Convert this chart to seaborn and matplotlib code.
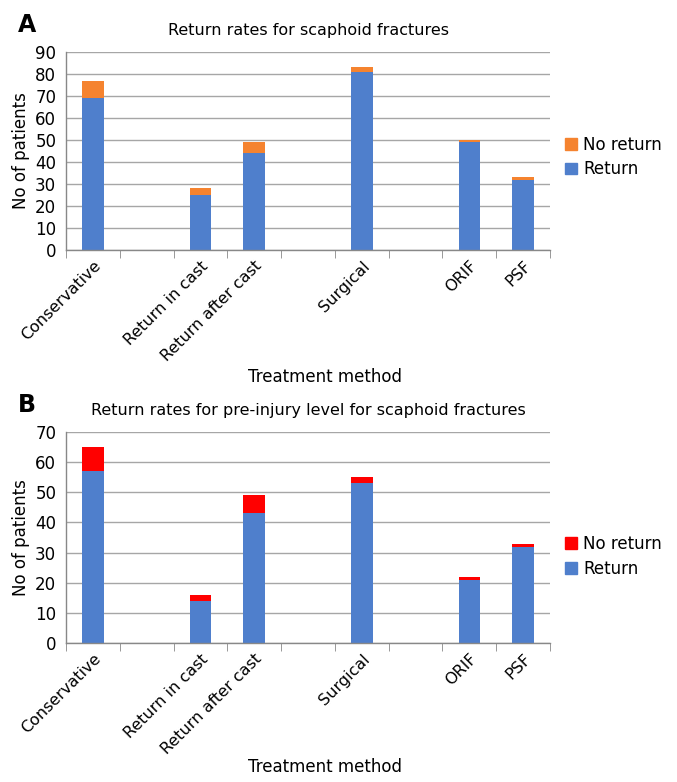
import numpy as np
import pandas as pd
import matplotlib
matplotlib.use("Agg")
import matplotlib.pyplot as plt
import seaborn as sns
from matplotlib.patches import Patch

# data
methods = ["Conservative", "Return in cast", "Return after cast", "Surgical", "ORIF", "PSF"]
a_return = [69, 25, 44, 81, 49, 32]
a_total = [77, 28, 49, 83, 50, 33]
b_return = [57, 14, 43, 53, 21, 32]
b_total = [65, 16, 49, 55, 22, 33]

# slot order with empty gaps between groups
slot_order = ["Conservative", "gap1", "Return in cast", "Return after cast", "gap2",
              "Surgical", "gap3", "ORIF", "PSF"]

BLUE = "#4f7fcc"
ORANGE = "#f5832f"
RED = "#ff0000"
GRID = "#a6a6a6"

sns.set_style("white")
plt.rcParams["font.family"] = ["DejaVu Sans"]
plt.rcParams["text.color"] = "black"
plt.rcParams["axes.labelcolor"] = "black"
plt.rcParams["xtick.color"] = "black"
plt.rcParams["ytick.color"] = "black"

fig = plt.figure(figsize=(6.77, 7.82), dpi=100)
W, H = 677, 782


def axes_px(left, right, top, bottom):
    return fig.add_axes([left / W, 1 - bottom / H, (right - left) / W, (bottom - top) / H])


def draw_panel(ax, ret, tot, top_color, title, ymax, letter, legend_y, xlabel_y):
    df = pd.DataFrame({"method": methods, "ret": ret, "tot": tot})
    sns.barplot(data=df, x="method", y="tot", order=slot_order, color=top_color,
                width=0.4, saturation=1, ax=ax, linewidth=0)
    sns.barplot(data=df, x="method", y="ret", order=slot_order, color=BLUE,
                width=0.4, saturation=1, ax=ax, linewidth=0)
    ax.set_xlim(-0.5, len(slot_order) - 0.5)
    ax.set_ylim(0, ymax)
    ax.set_yticks(np.arange(0, ymax + 1, 10))
    ax.yaxis.grid(True, color=GRID, linewidth=1)
    ax.set_axisbelow(True)
    for s in ["top", "right"]:
        ax.spines[s].set_visible(False)
    for s in ["left", "bottom"]:
        ax.spines[s].set_color("#888888")
        ax.spines[s].set_linewidth(1)
    labels = ["" if n.startswith("gap") else n for n in slot_order]
    ax.set_xticks(range(len(slot_order)))
    ax.set_xticklabels(labels, rotation=45, ha="right", rotation_mode="anchor", fontsize=11.5)
    ax.set_xticks(np.arange(-0.5, len(slot_order), 1), minor=True)
    ax.tick_params(axis="x", which="major", length=0, pad=6)
    ax.tick_params(axis="x", which="minor", length=6, color="#888888", bottom=True)
    ax.tick_params(axis="y", length=5, color="#888888", labelsize=12, pad=2)
    ax.set_xlabel("")
    ax.set_ylabel("No of patients", fontsize=12, labelpad=4)
    ax.set_title(title, fontsize=11.5, pad=12)
    handles = [Patch(color=top_color, label="No return"), Patch(color=BLUE, label="Return")]
    ax.legend(handles=handles, loc="center left", bbox_to_anchor=(1.0, legend_y),
              frameon=False, fontsize=12, handlelength=0.7, handleheight=0.7,
              handletextpad=0.4, labelspacing=0.4)
    fig.text(325 / W, 1 - xlabel_y / H, "Treatment method", ha="center", va="center", fontsize=12)
    pos = ax.get_position()
    fig.text(18 / W, pos.y1 + 27 / H, letter, fontsize=17, fontweight="bold", va="center")


ax_a = axes_px(66, 550, 52, 250)
draw_panel(ax_a, a_return, a_total, ORANGE, "Return rates for scaphoid fractures", 90, "A", 0.47, 377)

ax_b = axes_px(66, 550, 432, 643)
draw_panel(ax_b, b_return, b_total, RED, "Return rates for pre-injury level for scaphoid fractures",
           70, "B", 0.41, 767)

fig.savefig("out.png", dpi=100)
